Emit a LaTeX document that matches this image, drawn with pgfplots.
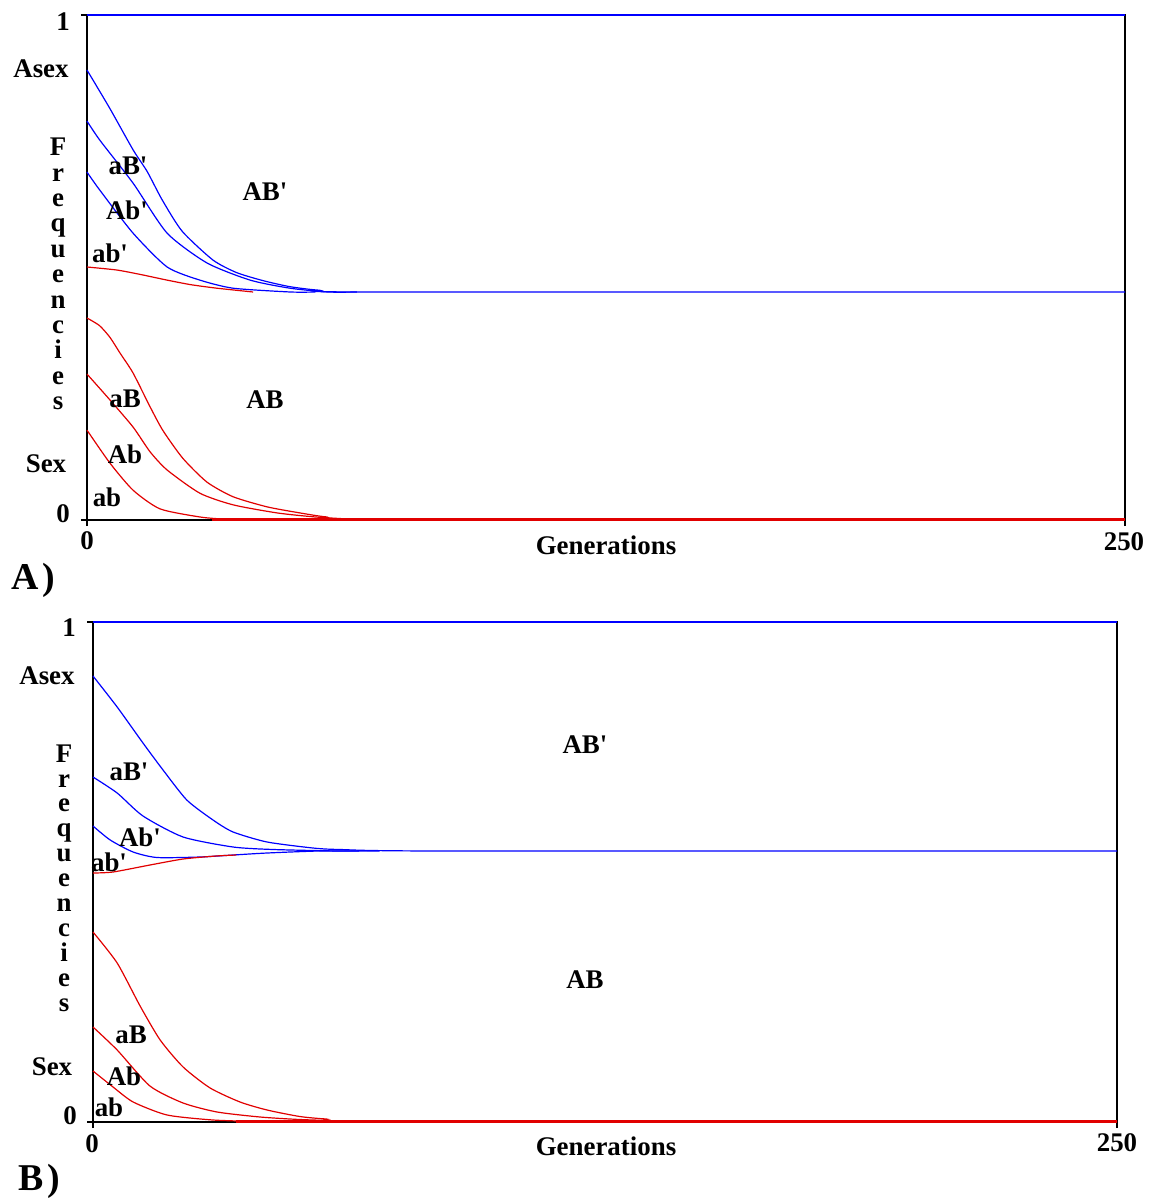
\documentclass[border=0pt]{standalone}
\usepackage{fontspec}
\setmainfont{Liberation Serif}
\usepackage{pgfplots}
\pgfplotsset{compat=1.18}
\definecolor{cblue}{RGB}{0,0,255}
\definecolor{cred}{RGB}{225,0,0}
\newcommand{\q}{\textquotesingle}
\pgfplotsset{panel/.style={scale only axis, xmin=0,xmax=250,ymin=0,ymax=1,
  xtick={0,250}, ytick={0,1}, xticklabels={,}, yticklabels={,},
  tick align=outside, xtick pos=left, ytick pos=left,
  major tick length=3bp, tick style={black, line width=1.1bp},
  axis line style={black, line width=1.3bp}, clip=false, anchor=south west},
  bl/.style={cblue, line width=0.6bp, no marks, smooth, tension=0.4},
  rd/.style={cred, line width=0.6bp, no marks, smooth, tension=0.4}}
\begin{document}
\begin{tikzpicture}
\useasboundingbox (0,0) rectangle (576.5bp,-599bp);
% ---------------- Panel A
\begin{axis}[panel, at={(43.5bp,-260bp)}, width=519bp, height=252.5bp]
\addplot[cblue, line width=1.2bp, no marks] coordinates {(0,1) (250,1)};
% asexual
\addplot[bl] coordinates {(0,0.891) (5.5,0.815) (11.1,0.733) (14.5,0.690) (18.1,0.634) (22.9,0.572) (30.3,0.515) (36,0.490) (42.4,0.474) (48.9,0.462) (56,0.455) (68,0.4515) (250,0.4515)};
\addplot[bl] coordinates {(0,0.790) (3.1,0.752) (11.1,0.667) (19.3,0.568) (28.9,0.509) (39.3,0.475) (48.9,0.459) (58,0.4515) (65,0.4515)};
\addplot[bl] coordinates {(0,0.689) (3.1,0.653) (11.1,0.568) (19.3,0.501) (27.2,0.475) (35.2,0.459) (49,0.4515) (55,0.4515)};
\addplot[rd] coordinates {(0,0.501) (7.2,0.495) (13,0.486) (19.3,0.475) (25,0.466) (31.3,0.459) (40,0.4515)};
\addplot[cred, line width=1.2bp, no marks] coordinates {(30,0.001) (250,0.001)};
% sexual
\addplot[rd] coordinates {(0,0.400) (3,0.385) (5.5,0.362) (8,0.330) (11.1,0.291) (15.2,0.224) (18.3,0.177) (23.1,0.122) (28.9,0.075) (35.2,0.046) (43.4,0.026) (51.3,0.014) (57.8,0.006) (69,0.001) (250,0.001)};
\addplot[rd] coordinates {(0,0.289) (5.5,0.238) (11.1,0.184) (15.2,0.135) (19.3,0.099) (27.2,0.053) (35.2,0.030) (45.8,0.014) (55,0.006) (65,0.001)};
\addplot[rd] coordinates {(0,0.178) (5.5,0.113) (11.1,0.059) (17.6,0.022) (27.2,0.006) (32.8,0.002) (40,0.001)};
\end{axis}
% ---------------- Panel B
\begin{axis}[panel, at={(46.5bp,-561bp)}, width=512bp, height=250bp]
\addplot[cblue, line width=1.2bp, no marks] coordinates {(0,1) (250,1)};
\addplot[bl] coordinates {(0,0.892) (5.9,0.830) (12.2,0.758) (17.1,0.704) (22.9,0.644) (29.3,0.604) (34.2,0.580) (42.5,0.560) (53.7,0.548) (60.3,0.545) (85,0.542) (250,0.542)};
\addplot[bl] coordinates {(0,0.690) (5.9,0.658) (12.2,0.612) (22,0.570) (34.2,0.550) (44,0.545) (60,0.542) (70,0.542)};
\addplot[bl] coordinates {(0,0.592) (4.2,0.564) (9.8,0.540) (15.6,0.529) (26.1,0.530) (34.2,0.534) (42.5,0.538) (55,0.542) (65,0.542)};
\addplot[rd] coordinates {(0,0.498) (4.9,0.500) (13.9,0.514) (22,0.526) (30,0.532) (35,0.534)};
\addplot[cred, line width=1.2bp, no marks] coordinates {(35,0.001) (250,0.001)};
\addplot[rd] coordinates {(0,0.380) (5.9,0.318) (11.5,0.232) (16.4,0.164) (22,0.110) (28.6,0.068) (35.9,0.040) (42.5,0.024) (50.5,0.011) (57,0.006) (70,0.001) (250,0.001)};
\addplot[rd] coordinates {(0,0.190) (5.9,0.144) (13.9,0.072) (22,0.038) (30.3,0.020) (40.8,0.010) (50.5,0.005) (65,0.001)};
\addplot[rd] coordinates {(0,0.102) (4.9,0.070) (9.8,0.040) (18.1,0.014) (29.3,0.004) (40,0.001)};
\end{axis}
% ---------------- Text
\begin{scope}[x=0.5bp, y=-0.5bp, every node/.style={inner sep=0pt, font=\bfseries\fontsize{13.5}{15}\selectfont}]
% panel A
\node at (63,22) {1};
\node at (41,69) {Asex};
\node[align=center, font=\bfseries\fontsize{13.5}{12.75}\selectfont] at (58,274) {F\\r\\e\\q\\u\\e\\n\\c\\i\\e\\s};
\node at (46,464) {Sex};
\node at (63,514) {0};
\node at (87,541) {0};
\node at (1124,542) {250};
\node at (606,545) {Generations};
\node[font=\bfseries\fontsize{19}{21}\selectfont] at (33,580) {A\hspace{2bp})};
\node at (128,166) {aB\q};
\node at (127,210) {Ab\q};
\node at (110,253) {ab\q};
\node at (265,192) {AB\q};
\node at (125,399) {aB};
\node at (265,400) {AB};
\node at (125,454) {Ab};
\node at (107,497) {ab};
% panel B
\node at (69,628) {1};
\node at (47,676) {Asex};
\node[align=center, font=\bfseries\fontsize{13.5}{12.5}\selectfont] at (64,878) {F\\r\\e\\q\\u\\e\\n\\c\\i\\e\\s};
\node at (52,1067) {Sex};
\node at (70,1116) {0};
\node at (92,1144) {0};
\node at (1117,1143) {250};
\node at (606,1146) {Generations};
\node[font=\bfseries\fontsize{19}{21}\selectfont] at (39,1181) {B\hspace{2bp})};
\node at (129,772) {aB\q};
\node at (140,837) {Ab\q};
\node at (109,862) {ab\q};
\node at (585,745) {AB\q};
\node at (131,1035) {aB};
\node at (585,980) {AB};
\node at (124,1076) {Ab};
\node at (109,1107) {ab};
\end{scope}
\end{tikzpicture}
\end{document}
